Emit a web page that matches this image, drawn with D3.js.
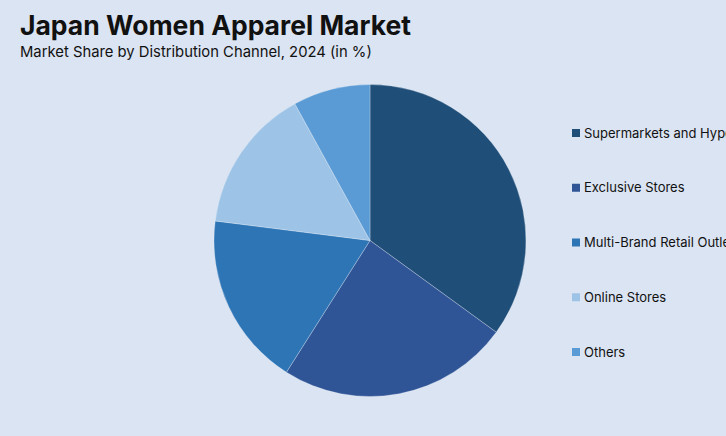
<!DOCTYPE html>
<html><head><meta charset="utf-8">
<script src="https://cdn.jsdelivr.net/npm/d3@7"></script>
<style>
html,body{margin:0;padding:0;background:#dbe4f2;overflow:hidden;}
svg{display:block;font-family:Inter,"Open Sans",sans-serif;}
</style></head>
<body>
<svg id="c" width="726" height="436"></svg>
<script>
const categories = ["Supermarkets and Hypermarkets","Exclusive Stores","Multi-Brand Retail Outlets","Online Stores","Others"];
const shares = [35, 24, 18, 15, 8];
const colors = ["#1f4e79","#2f5597","#2e75b6","#9dc3e6","#5b9bd5"];

const svg = d3.select("#c");
svg.append("rect").attr("width",726).attr("height",436).attr("fill","#dbe4f2");

svg.append("text").attr("x",20).attr("y",35).attr("font-size",26.5).attr("font-weight",700)
  .attr("fill","#111").text("Japan Women Apparel Market");
svg.append("text").attr("x",20).attr("y",57).attr("font-size",14.8)
  .attr("fill","#111").text("Market Share by Distribution Channel, 2024 (in %)");

const data = categories.map((c,i)=>({name:c,value:shares[i],color:colors[i]}));
const pie = d3.pie().value(d=>d.value).sort(null);
const arc = d3.arc().innerRadius(0).outerRadius(156);
const g = svg.append("g").attr("transform","translate(370,240.5)");
g.selectAll("path").data(pie(data)).join("path")
  .attr("d",arc).attr("fill",d=>d.data.color)
  .attr("stroke","rgba(255,255,255,0.45)").attr("stroke-width",0.6);

const legY = d3.scalePoint().domain(categories).range([133,352]);
const lg = svg.append("g");
data.forEach(d=>{
  const y = legY(d.name);
  lg.append("rect").attr("x",572).attr("y",y-4).attr("width",8).attr("height",8).attr("fill",d.color);
  lg.append("text").attr("x",584).attr("y",y).attr("dy","0.35em").attr("font-size",13)
    .attr("fill","#111").text(d.name);
});
</script>
</body></html>
